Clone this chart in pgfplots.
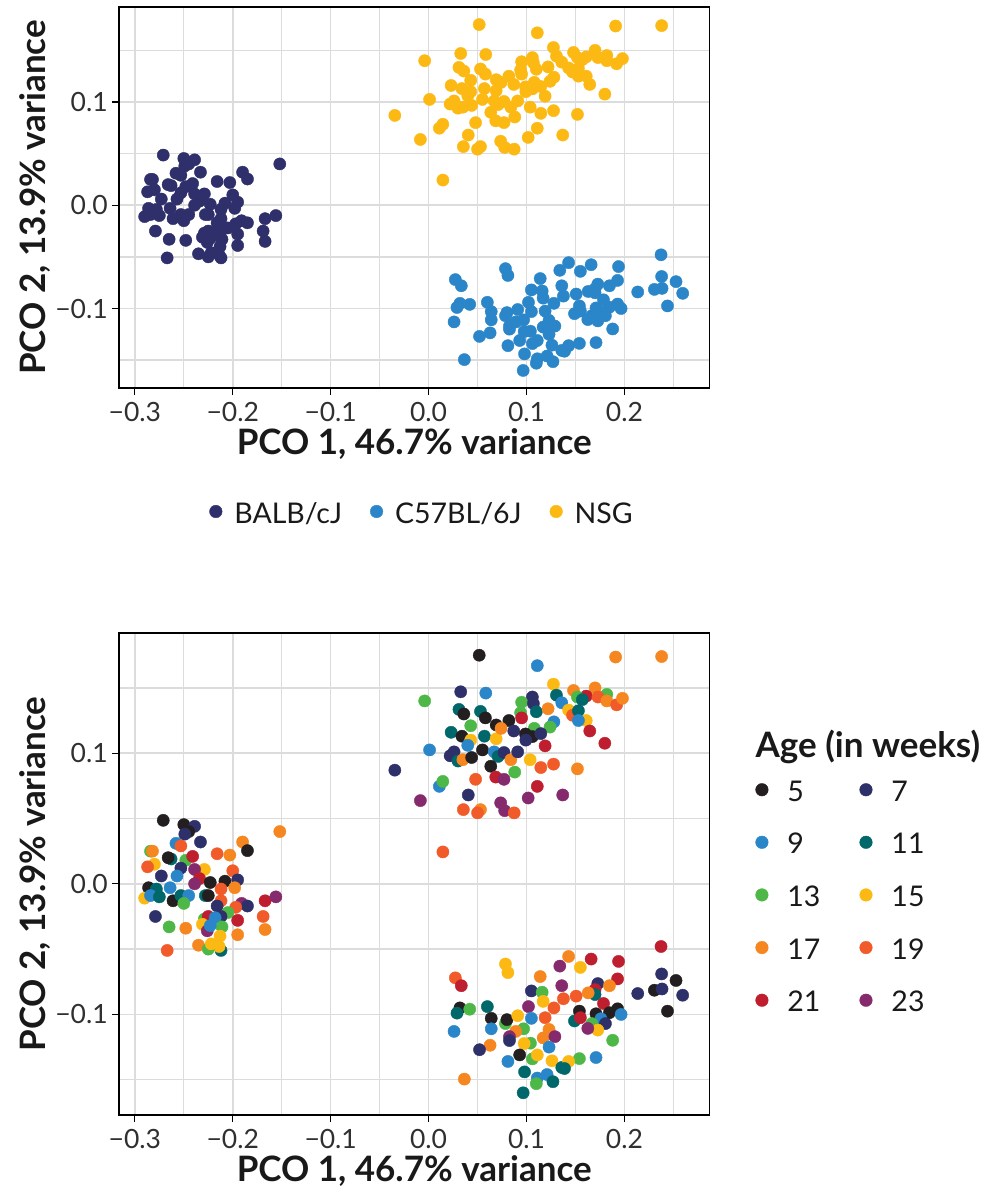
\documentclass[border=0pt]{standalone}
\usepackage{fontspec}
\setmainfont{Lato}
\usepackage{pgfplots}
\usepackage{pgfplotstable}
\pgfplotsset{compat=1.18}

\definecolor{cB}{HTML}{2F2F6B}
\definecolor{cC}{HTML}{2A86C8}
\definecolor{cN}{HTML}{FDB913}
\definecolor{a5}{HTML}{231F20}
\definecolor{a7}{HTML}{2E3069}
\definecolor{a9}{HTML}{2A86C8}
\definecolor{a11}{HTML}{00686B}
\definecolor{a13}{HTML}{4DB848}
\definecolor{a15}{HTML}{FDB913}
\definecolor{a17}{HTML}{F6861F}
\definecolor{a19}{HTML}{F15A29}
\definecolor{a21}{HTML}{BE1E2D}
\definecolor{a23}{HTML}{862A6E}
\definecolor{gridgray}{HTML}{DCDCDC}
\definecolor{ticktext}{HTML}{303030}

% PCO scores: x, y, strain, age
\pgfplotstableread{
x y s a
-0.271 0.0486 B a5
-0.250 0.0453 B a5
-0.239 0.044 B a7
-0.245 0.040 B a5
-0.249 0.038 B a7
-0.152 0.040 B a17
-0.233 0.032 B a7
-0.258 0.031 B a9
-0.253 0.029 B a19
-0.190 0.032 B a17
-0.185 0.0254 B a5
-0.284 0.025 B a13
-0.282 0.025 B a17
-0.216 0.023 B a19
-0.203 0.022 B a17
-0.263 0.019 B a11
-0.266 0.020 B a5
-0.248 0.018 B a13
-0.241 0.021 B a21
-0.280 0.015 B a15
-0.287 0.013 B a19
-0.273 0.006 B a7
-0.253 0.012 B a7
-0.229 0.011 B a15
-0.239 0.011 B a23
-0.257 0.006 B a9
-0.200 0.010 B a19
-0.234 0.004 B a21
-0.239 0.000 B a23
-0.223 0.001 B a5
-0.208 0.002 B a5
-0.195 0.003 B a7
-0.198 -0.003 B a17
-0.212 -0.004 B a19
-0.286 -0.003 B a5
-0.278 -0.004 B a11
-0.264 -0.003 B a9
-0.290 -0.011 B a15
-0.284 -0.009 B a9
-0.275 -0.010 B a11
-0.261 -0.013 B a5
-0.253 -0.009 B a11
-0.245 -0.009 B a9
-0.250 -0.015 B a13
-0.228 -0.009 B a11
-0.225 -0.009 B a5
-0.212 -0.013 B a19
-0.216 -0.017 B a7
-0.191 -0.015 B a23
-0.185 -0.017 B a7
-0.197 -0.018 B a19
-0.205 -0.022 B a13
-0.167 -0.013 B a21
-0.156 -0.010 B a23
-0.279 -0.025 B a7
-0.169 -0.025 B a19
-0.195 -0.028 B a21
-0.229 -0.027 B a13
-0.225 -0.025 B a21
-0.212 -0.025 B a7
-0.218 -0.026 B a9
-0.231 -0.031 B a15
-0.226 -0.036 B a23
-0.211 -0.033 B a13
-0.223 -0.032 B a9
-0.265 -0.033 B a13
-0.248 -0.034 B a17
-0.167 -0.035 B a17
-0.195 -0.039 B a17
-0.213 -0.040 B a15
-0.212 -0.051 B a11
-0.214 -0.048 B a15
-0.235 -0.047 B a17
-0.225 -0.050 B a13
-0.222 -0.046 B a15
-0.267 -0.051 B a19
0.0517 0.175 N a5
0.0328 0.147 N a7
0.0584 0.146 N a9
-0.004 0.140 N a13
0.031 0.1335 N a11
0.036 0.130 N a5
0.053 0.132 N a11
0.058 0.127 N a5
0.043 0.121 N a13
0.069 0.1216 N a5
0.082 0.125 N a5
0.087 0.117 N a7
0.023 0.116 N a11
0.034 0.113 N a5
0.043 0.110 N a15
0.057 0.113 N a11
0.069 0.111 N a15
0.074 0.119 N a17
0.040 0.106 N a9
0.001 0.1025 N a9
0.055 0.1025 N a5
0.067 0.101 N a9
0.026 0.101 N a7
0.022 0.098 N a7
0.030 0.094 N a11
0.035 0.095 N a17
0.044 0.0967 N a5
0.071 0.0975 N a11
0.077 0.1005 N a7
0.084 0.095 N a17
0.091 0.101 N a7
0.0635 0.090 N a5
-0.0345 0.087 N a7
0.088 0.0855 N a13
0.011 0.0746 N a9
0.0145 0.0784 N a13
0.048 0.080 N a19
0.0686 0.0817 N a21
0.077 0.080 N a23
0.0405 0.068 N a7
-0.0084 0.0637 N a23
0.0736 0.062 N a23
0.0777 0.056 N a23
0.0355 0.0568 N a19
0.053 0.0568 N a17
0.050 0.0543 N a19
0.0874 0.0543 N a19
0.191 0.1736 N a17
0.238 0.174 N a17
0.111 0.167 N a9
0.1275 0.1528 N a15
0.148 0.148 N a17
0.170 0.150 N a17
0.182 0.145 N a13
0.161 0.1437 N a21
0.173 0.143 N a19
0.182 0.140 N a17
0.192 0.137 N a19
0.198 0.142 N a17
0.1306 0.1444 N a11
0.152 0.143 N a13
0.157 0.141 N a11
0.136 0.1386 N a9
0.106 0.143 N a7
0.095 0.139 N a13
0.107 0.138 N a7
0.094 0.131 N a13
0.110 0.1317 N a11
0.122 0.134 N a17
0.143 0.133 N a15
0.147 0.129 N a19
0.153 0.1325 N a11
0.161 0.125 N a15
0.153 0.125 N a9
0.095 0.127 N a21
0.128 0.124 N a9
0.124 0.120 N a13
0.108 0.119 N a13
0.1646 0.117 N a21
0.099 0.1147 N a5
0.106 0.1127 N a5
0.1146 0.115 N a7
0.0993 0.110 N a7
0.180 0.1076 N a21
0.119 0.1056 N a21
0.1037 0.095 N a15
0.1146 0.089 N a19
0.1276 0.0916 N a19
0.152 0.088 N a17
0.111 0.0746 N a21
0.1017 0.0657 N a23
0.137 0.068 N a23
0.0146 0.0244 N a19
0.0785 -0.0614 C a15
0.081 -0.068 C a15
0.0273 -0.072 C a19
0.0334 -0.078 C a21
0.114 -0.071 C a17
0.134 -0.063 C a23
0.105 -0.082 C a7
0.116 -0.083 C a13
0.136 -0.078 C a23
0.117 -0.090 C a15
0.032 -0.095 C a5
0.029 -0.099 C a11
0.042 -0.096 C a13
0.060 -0.094 C a11
0.102 -0.094 C a23
0.064 -0.103 C a5
0.064 -0.111 C a9
0.026 -0.113 C a9
0.0785 -0.107 C a13
0.080 -0.104 C a5
0.091 -0.101 C a15
0.105 -0.103 C a9
0.097 -0.111 C a13
0.119 -0.1025 C a19
0.128 -0.095 C a19
0.089 -0.113 C a17
0.0826 -0.117 C a23
0.0826 -0.120 C a7
0.117 -0.118 C a17
0.123 -0.1115 C a17
0.129 -0.117 C a23
0.0628 -0.1236 C a17
0.052 -0.127 C a7
0.104 -0.122 C a13
0.0976 -0.1223 C a15
0.093 -0.131 C a5
0.106 -0.134 C a13
0.111 -0.131 C a15
0.123 -0.125 C a9
0.126 -0.1355 C a15
0.081 -0.136 C a9
0.098 -0.144 C a11
0.111 -0.1487 C a9
0.121 -0.146 C a9
0.110 -0.153 C a13
0.127 -0.1515 C a11
0.0966 -0.160 C a11
0.0365 -0.1495 C a17
0.136 -0.1406 C a11
0.2374 -0.048 C a21
0.143 -0.0556 C a17
0.166 -0.0576 C a21
0.155 -0.064 C a15
0.194 -0.0594 C a21
0.193 -0.0728 C a21
0.238 -0.069 C a7
0.2527 -0.074 C a5
0.1728 -0.0764 C a7
0.1847 -0.078 C a17
0.170 -0.081 C a21
0.170 -0.0848 C a11
0.163 -0.0835 C a17
0.1507 -0.086 C a19
0.1377 -0.088 C a19
0.2136 -0.084 C a7
0.2306 -0.0815 C a5
0.2384 -0.0805 C a7
0.2595 -0.0853 C a7
0.1786 -0.0916 C a21
0.154 -0.0975 C a5
0.171 -0.0995 C a5
0.1847 -0.0987 C a5
0.193 -0.0957 C a5
0.1966 -0.100 C a9
0.244 -0.0975 C a5
0.149 -0.105 C a11
0.155 -0.1025 C a21
0.176 -0.1033 C a9
0.1806 -0.107 C a7
0.1667 -0.107 C a13
0.1728 -0.112 C a15
0.1626 -0.1107 C a23
0.188 -0.1198 C a13
0.171 -0.133 C a9
0.154 -0.1338 C a13
0.143 -0.136 C a15
0.1388 -0.1414 C a11
}\pcodata

\pgfplotsset{
  pcoaxis/.style={
    scale only axis, width=590.8pt,
    xmin=-0.3163, xmax=0.2871, ymin=-0.177, ymax=0.192,
    xtick={-0.3,-0.2,-0.1,0,0.1,0.2},
    xticklabels={−0.3,−0.2,−0.1,0.0,0.1,0.2},
    ytick={-0.1,0,0.1},
    yticklabels={−0.1,0.0,0.1},
    minor xtick={-0.25,-0.15,-0.05,0.05,0.15,0.25},
    minor ytick={-0.15,-0.05,0.05,0.15},
    grid=both,
    major grid style={gridgray, line width=1.6pt},
    minor grid style={gridgray, line width=1.3pt},
    xtick pos=bottom, ytick pos=left,
    tick align=outside, major tick length=7pt, minor tick length=0pt,
    tick style={black, line width=1.2pt},
    axis line style={black, line width=1.3pt},
    tick label style={font=\fontsize{26.5}{30}\selectfont, text=ticktext, inner sep=0pt},
    xticklabel style={anchor=center, yshift=-17pt},
    yticklabel style={anchor=east, xshift=-4pt},
    xlabel={PCO 1, 46.7\% variance},
    ylabel={PCO 2, 13.9\% variance},
    label style={font=\bfseries\fontsize{35}{40}\selectfont, text=black!90, inner sep=0pt},
    x label style={at={(axis description cs:0.5,0)}, anchor=center, yshift=-56pt},
    legend style={draw=none, fill=none, inner sep=0pt, outer sep=0pt,
      nodes={inner sep=0pt, text=black!90}, font=\fontsize{28.5}{32}\selectfont},
    legend cell align=left,
  },
  dotleg/.style={legend image code/.code={\fill[#1] (0pt,2pt) circle (6.3pt);}},
}

\begin{document}
\begin{tikzpicture}
\useasboundingbox (-118.9pt,7pt) rectangle (873.1pt,-1184pt);

\begin{axis}[pcoaxis, height=381pt, at={(0pt,0pt)}, anchor=north west,
  y label style={at={(axis description cs:-0.1422,0.5)}, anchor=center},
  legend columns=3,
  legend style={at={(axis description cs:0.5114,-0.3294)}, anchor=center,
    /tikz/every odd column/.style={column sep=12pt},
    /tikz/every even column/.style={column sep=28pt}},
]
\addplot[forget plot, scatter, only marks, mark=*, mark size=6.1pt,
  scatter src=explicit symbolic,
  scatter/classes={B={cB}, C={cC}, N={cN}}]
  table[x=x, y=y, meta=s] {\pcodata};
\addlegendimage{dotleg=cB}
\addlegendentry{BALB/cJ}
\addlegendimage{dotleg=cC}
\addlegendentry{C57BL/6J}
\addlegendimage{dotleg=cN}
\addlegendentry{NSG}
\end{axis}

\begin{axis}[pcoaxis, height=482pt, at={(0pt,-626pt)}, anchor=north west,
  y label style={at={(axis description cs:-0.1422,0.5)}, anchor=center},
  legend columns=2,
  legend style={at={(axis description cs:1.0774,0.6934)}, anchor=north west,
    /tikz/every odd column/.style={column sep=19pt},
    /tikz/every even column/.style={column sep=39pt},
    row sep=30.5pt},
]
\addplot[forget plot, scatter, only marks, mark=*, mark size=6.1pt,
  scatter src=explicit symbolic,
  scatter/classes={a5={a5}, a7={a7}, a9={a9}, a11={a11}, a13={a13},
    a15={a15}, a17={a17}, a19={a19}, a21={a21}, a23={a23}}]
  table[x=x, y=y, meta=a] {\pcodata};
\addlegendimage{dotleg=a5}\addlegendentry{5}
\addlegendimage{dotleg=a7}\addlegendentry{7}
\addlegendimage{dotleg=a9}\addlegendentry{9}
\addlegendimage{dotleg=a11}\addlegendentry{11}
\addlegendimage{dotleg=a13}\addlegendentry{13}
\addlegendimage{dotleg=a15}\addlegendentry{15}
\addlegendimage{dotleg=a17}\addlegendentry{17}
\addlegendimage{dotleg=a19}\addlegendentry{19}
\addlegendimage{dotleg=a21}\addlegendentry{21}
\addlegendimage{dotleg=a23}\addlegendentry{23}
\end{axis}

\node[anchor=base west, inner sep=0pt, text=black!90,
  font=\bfseries\fontsize{35}{40}\selectfont] at (636.5pt,-750pt) {Age (in weeks)};
\end{tikzpicture}
\end{document}
